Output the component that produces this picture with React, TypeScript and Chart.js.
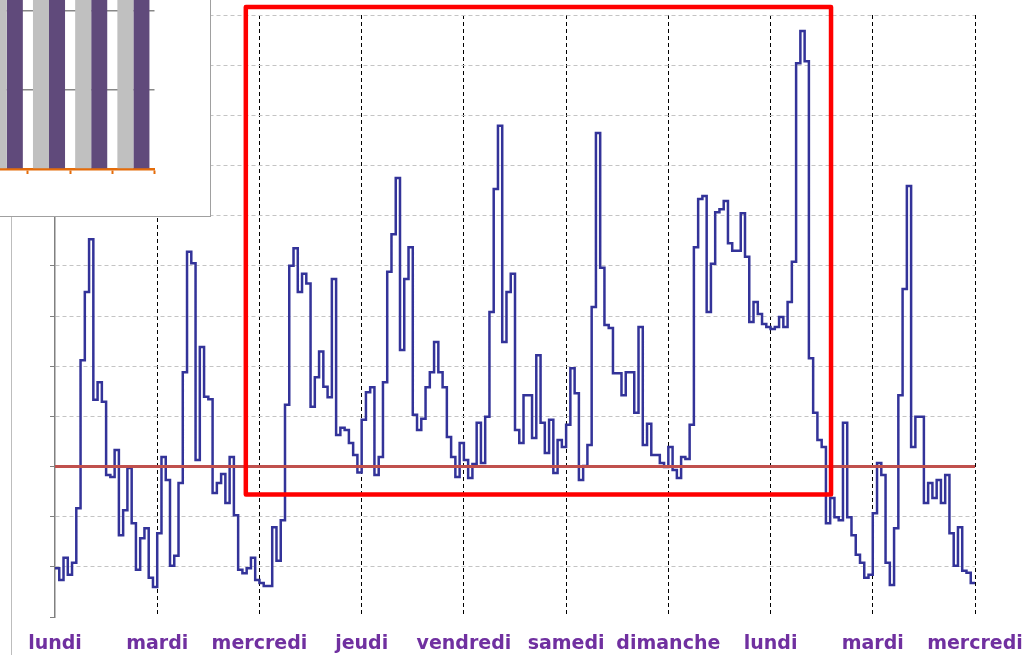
import React, { useEffect, useRef } from "react";
import { Chart, registerables } from "chart.js";

Chart.register(...registerables);

// ---- Data (hourly values) ----
const dayLabels = ["lundi", "mardi", "mercredi", "jeudi", "vendredi", "samedi", "dimanche", "lundi", "mardi", "mercredi"];
const hoursPerDay = 24;

const mondayA = [0.97, 0.74, 1.18, 0.84, 1.08, 2.17, 5.12, 6.48, 7.53, 4.33, 4.68, 4.29, 2.83, 2.79, 3.33, 1.63, 2.13, 2.97, 1.87, 0.94, 1.57, 1.77, 0.78, 0.6];
const tuesdayA = [1.67, 3.19, 2.73, 1.02, 1.22, 2.67, 4.88, 7.28, 7.05, 3.13, 5.38, 4.39, 4.34, 2.47, 2.67, 2.85, 2.27, 3.19, 2.03, 0.94, 0.87, 0.97, 1.18, 0.74];
const wednesdayA = [0.68, 0.62, 0.62, 1.79, 1.12, 1.93, 4.23, 7.0, 7.35, 6.48, 6.84, 6.65, 4.19, 4.78, 5.29, 4.59, 4.38, 6.74, 3.63, 3.77, 3.73, 3.47, 3.23, 2.88];
const thursday = [3.93, 4.48, 4.58, 2.83, 3.19, 4.68, 6.88, 7.63, 8.75, 5.32, 6.74, 7.37, 4.03, 3.73, 3.95, 4.58, 4.88, 5.48, 4.88, 4.58, 3.59, 3.19, 2.79, 3.47];
const friday = [3.13, 2.77, 3.05, 3.87, 3.07, 3.99, 6.08, 8.53, 9.79, 5.48, 6.48, 6.84, 3.73, 3.47, 4.42, 4.42, 3.57, 5.22, 3.87, 3.27, 3.93, 2.87, 3.53, 3.39];
const saturday = [3.83, 4.96, 4.46, 2.73, 3.01, 3.43, 6.18, 9.65, 6.96, 5.82, 5.76, 4.86, 4.86, 4.42, 4.88, 4.88, 4.07, 5.78, 3.43, 3.85, 3.23, 3.23, 3.07, 2.99];
const sunday = [3.39, 2.93, 2.77, 3.19, 3.15, 3.83, 7.37, 8.33, 8.39, 6.08, 7.04, 8.07, 8.13, 8.29, 7.45, 7.3, 7.3, 8.05, 7.18, 5.88, 6.28, 6.04, 5.84, 5.78];
const mondayB = [5.74, 5.78, 5.98, 5.78, 6.28, 7.08, 11.04, 11.68, 11.08, 5.16, 4.07, 3.53, 3.39, 1.87, 2.37, 1.99, 1.93, 3.87, 1.99, 1.63, 1.24, 1.08, 0.78, 0.84];
const tuesdayB = [2.07, 3.07, 2.83, 1.08, 0.64, 1.77, 4.42, 6.54, 8.59, 3.39, 3.99, 3.99, 2.27, 2.67, 2.37, 2.73, 2.27, 2.83, 1.67, 1.02, 1.79, 0.92, 0.88, 0.68];

const hourlyValues = [
  ...mondayA, ...tuesdayA, ...wednesdayA, ...thursday, ...friday,
  ...saturday, ...sunday, ...mondayB, ...tuesdayB,
];

const referenceLevel = 3;
const yMin = 0;
const yMax = 12;

// highlighted period (in hours / value units)
const boxStartHour = 44.8;
const boxEndHour = 182.2;
const boxLow = 2.44;
const boxHigh = 12.16;

// inset bar chart (partially visible)
const insetCategories = ["1", "2", "3", "4"];
const insetGreyValues = [2.8, 2.7, 2.9, 2.75];
const insetPurpleValues = [2.9, 2.8, 2.85, 2.95];
const insetMax = 3;

const totalHours = hourlyValues.length;

const highlightPlugin = {
  id: "highlightBox",
  afterDraw(chart: any) {
    const { ctx, scales } = chart;
    const x = scales.x;
    const y = scales.y;
    const x1 = x.getPixelForValue(boxStartHour);
    const x2 = x.getPixelForValue(boxEndHour);
    const y1 = y.getPixelForValue(boxHigh);
    const y2 = y.getPixelForValue(boxLow);
    ctx.save();
    ctx.strokeStyle = "#FF0000";
    ctx.lineWidth = 4.5;
    ctx.lineJoin = "round";
    ctx.strokeRect(x1, y1, x2 - x1, y2 - y1);
    ctx.restore();
  },
};

function MainChart() {
  const ref = useRef<HTMLCanvasElement | null>(null);
  useEffect(() => {
    if (!ref.current) return;
    const points = hourlyValues.map((v, i) => ({ x: i, y: v }));
    points.push({ x: totalHours, y: hourlyValues[totalHours - 1] });
    const chart = new Chart(ref.current, {
      type: "line",
      data: {
        datasets: [
          {
            label: "référence",
            data: [
              { x: 0, y: referenceLevel },
              { x: totalHours, y: referenceLevel },
            ],
            borderColor: "#C0504D",
            borderWidth: 3,
            pointRadius: 0,
            order: 0,
          },
          {
            label: "profil",
            data: points,
            borderColor: "#333399",
            borderWidth: 2.5,
            pointRadius: 0,
            stepped: true,
            borderJoinStyle: "miter",
            order: 1,
          },
        ],
      },
      options: {
        responsive: false,
        animation: false,
        devicePixelRatio: 1,
        layout: { padding: { top: 15, right: 54, left: 0, bottom: 0 } },
        plugins: { legend: { display: false }, tooltip: { enabled: false } },
        scales: {
          x: {
            type: "linear",
            min: 0,
            max: totalHours,
            afterBuildTicks: (scale: any) => {
              scale.ticks = dayLabels.map((_, i) => ({ value: i * hoursPerDay }));
            },
            afterFit: (scale: any) => {
              scale.height = 38;
              scale.paddingLeft = 0;
              scale.paddingRight = 0;
            },
            ticks: {
              autoSkip: false,
              maxRotation: 0,
              padding: 16,
              color: "#7030A0",
              font: { family: "'DejaVu Sans', Verdana, sans-serif", size: 19, weight: "bold" },
              callback: (_v: any, i: number) => dayLabels[i],
            },
            grid: {
              color: (ctx: any) => (ctx.index === 0 ? "rgba(0,0,0,0)" : "#000000"),
              lineWidth: 1,
              drawTicks: false,
            },
            border: { display: false, dash: [4, 3] },
          },
          y: {
            min: yMin,
            max: yMax,
            afterFit: (scale: any) => {
              scale.width = 55;
              scale.paddingTop = 0;
              scale.paddingBottom = 0;
            },
            ticks: { stepSize: 1, display: false },
            grid: {
              color: (ctx: any) => (ctx.index === 0 ? "rgba(0,0,0,0)" : "#C4C4C4"),
              lineWidth: 1,
              drawTicks: true,
              tickLength: 5,
              tickColor: "#808080",
              tickWidth: 1,
              tickBorderDash: [],
            },
            border: { display: true, color: "#808080", width: 1.5, dash: [4, 3] },
          },
        },
      },
      plugins: [highlightPlugin],
    } as any);
    return () => chart.destroy();
  }, []);
  return <canvas ref={ref} width={1029} height={655} style={{ position: "absolute", left: 0, top: 0, display: "block" }} />;
}

function InsetChart() {
  const ref = useRef<HTMLCanvasElement | null>(null);
  useEffect(() => {
    if (!ref.current) return;
    const chart = new Chart(ref.current, {
      type: "bar",
      data: {
        labels: insetCategories,
        datasets: [
          { label: "a", data: insetGreyValues, backgroundColor: "#C0C0C0", barPercentage: 1, categoryPercentage: 0.76 },
          { label: "b", data: insetPurpleValues, backgroundColor: "#604A7B", barPercentage: 1, categoryPercentage: 0.76 },
        ],
      },
      options: {
        responsive: false,
        animation: false,
        devicePixelRatio: 1,
        layout: { padding: { top: 12, right: 5.5, left: 0, bottom: 0 } },
        plugins: { legend: { display: false }, tooltip: { enabled: false } },
        scales: {
          x: {
            offset: true,
            afterFit: (scale: any) => {
              scale.height = 11;
              scale.paddingLeft = 0;
              scale.paddingRight = 0;
            },
            ticks: { display: false },
            grid: {
              offset: true,
              drawOnChartArea: false,
              drawTicks: true,
              tickLength: 5,
              tickColor: "#E46C0A",
              tickWidth: 2,
            },
            border: { display: true, color: "#E46C0A", width: 2.5 },
          },
          y: {
            min: 0,
            max: insetMax,
            afterFit: (scale: any) => {
              scale.width = 25.7;
            },
            ticks: { display: false, stepSize: 1 },
            grid: { color: "#888888", lineWidth: 1.5, drawTicks: false },
            border: { display: false },
          },
        },
      },
    } as any);
    return () => chart.destroy();
  }, []);
  return <canvas ref={ref} width={200} height={260} style={{ position: "absolute", left: -40, top: -80, display: "block" }} />;
}

export default function App() {
  return (
    <div style={{ position: "absolute", left: 0, top: 0, width: 1029, height: 655, overflow: "hidden", background: "#FFFFFF" }}>
      <MainChart />
      <div style={{ position: "absolute", left: 11, top: 0, width: 0, height: 655, borderLeft: "1px solid #BDBDBD" }} />
      <div
        style={{
          position: "absolute",
          left: 0,
          top: 0,
          width: 211,
          height: 217,
          boxSizing: "border-box",
          background: "#FFFFFF",
          borderRight: "1.5px solid #A0A0A0",
          borderBottom: "1.5px solid #A0A0A0",
          overflow: "hidden",
        }}
      >
        <InsetChart />
      </div>
    </div>
  );
}
